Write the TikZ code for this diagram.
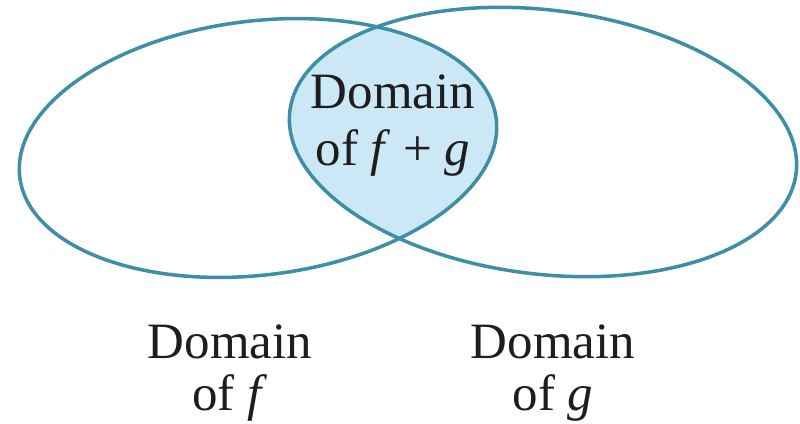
\documentclass[tikz,border=0pt]{standalone}
\usepackage{fontspec}
\setmainfont{Liberation Serif}
\usepackage{xcolor}
\usepackage{tikz}
\usetikzlibrary{positioning}
\definecolor{ringteal}{RGB}{62,142,166}
\definecolor{lensblue}{RGB}{204,232,246}
\definecolor{inkblack}{RGB}{30,30,30}
\tikzset{
  domring/.style={draw=ringteal,line width=2pt},
  lensfill/.style={fill=lensblue},
  domlab/.style={align=center,inner sep=0pt,text=inkblack,
    font=\fontsize{29}{29.6}\selectfont},
  lenslab/.style={domlab,font=\fontsize{29}{32.4}\selectfont}
}
\newcommand{\fn}[1]{\textit{#1}}

\begin{document}
\begin{tikzpicture}[x=0.02cm,y=-0.02cm]
  \useasboundingbox (0,0) rectangle (800,423);
  \coordinate (fcenter) at (258,148);
  \coordinate (gcenter) at (543,142);

  % shaded overlap
  \begin{scope}
    \clip (fcenter) ellipse [x radius=240,y radius=127,rotate=7];
    \fill[lensfill] (gcenter) ellipse [x radius=255,y radius=132,rotate=-7];
  \end{scope}
  \draw[domring] (fcenter) ellipse [x radius=240,y radius=127,rotate=7];
  \draw[domring] (gcenter) ellipse [x radius=255,y radius=132,rotate=-7];

  \node[lenslab,anchor=north] (sumlab) at (393,74) {
    Domain\\
    of \fn{f} + \fn{g}};
  \node[domlab,anchor=north] (flab) at (230,324) {
    Domain\\
    of \fn{f}};
  \node[domlab,anchor=north] (glab) at (553,324) {
    Domain\\
    of \fn{g}};
\end{tikzpicture}
\end{document}
